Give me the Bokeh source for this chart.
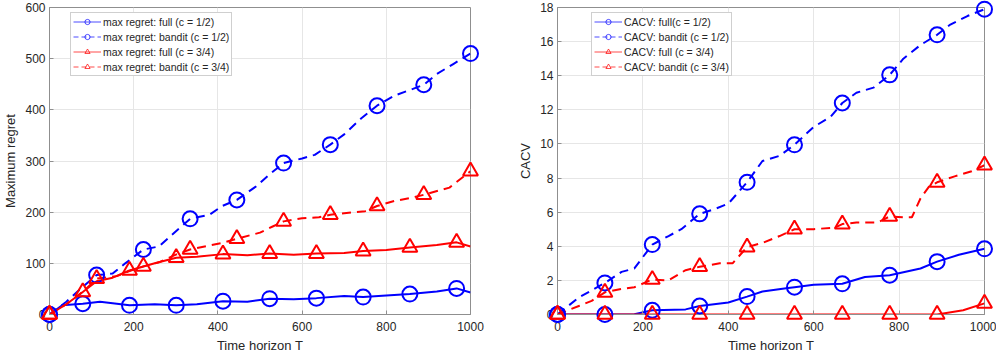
import numpy as np
from bokeh.plotting import figure
from bokeh.layouts import row
from bokeh.models import Range1d, FixedTicker, Legend, LegendItem
from bokeh.embed import file_html
from bokeh.resources import INLINE

# ---------------- data: left panel (Maximum regret) ----------------
reg_full_half_x = [0, 30, 79, 120, 150, 190, 250, 301, 350, 412, 470, 523, 580, 634, 700, 745, 800, 856, 920, 967, 1000]
reg_full_half_y = [0, 18, 21, 25, 22, 18, 20, 18, 20, 26, 25, 31, 30, 32, 36, 34, 37, 40, 45, 51, 43]
reg_full_half_mk = [0, 79, 190, 301, 412, 523, 634, 745, 856, 967]

reg_band_half_x = [0, 40, 80, 112, 150, 180, 223, 260, 290, 334, 380, 410, 445, 490, 520, 556, 600, 630, 667, 700, 740, 778, 820, 860, 889, 920, 960, 1000]
reg_band_half_y = [0, 25, 55, 77, 80, 100, 127, 133, 155, 187, 195, 212, 224, 250, 272, 296, 305, 312, 332, 352, 383, 408, 428, 440, 449, 470, 490, 510]
reg_band_half_mk = [0, 112, 223, 334, 445, 556, 667, 778, 889, 1000]

reg_full_34_x = [0, 40, 79, 112, 150, 190, 250, 301, 350, 412, 470, 523, 580, 634, 700, 745, 800, 856, 920, 967, 1000]
reg_full_34_y = [0, 20, 44, 65, 72, 86, 100, 111, 113, 118, 116, 119, 117, 119, 120, 124, 126, 131, 136, 141, 133]
reg_full_34_mk = [0, 79, 190, 301, 412, 523, 634, 745, 856, 967]

reg_band_34_x = [0, 40, 80, 112, 160, 190, 223, 260, 300, 334, 380, 410, 445, 500, 530, 556, 600, 640, 667, 700, 750, 778, 820, 860, 889, 950, 1000]
reg_band_34_y = [0, 20, 45, 70, 75, 85, 94, 102, 117, 127, 135, 140, 148, 160, 172, 182, 188, 190, 195, 198, 202, 212, 222, 228, 234, 248, 280]
reg_band_34_mk = [0, 112, 223, 334, 445, 556, 667, 778, 889, 1000]

# ---------------- data: right panel (CACV) ----------------
cv_full_half_x = [0, 111, 180, 222, 300, 333, 400, 444, 480, 540, 555, 600, 667, 720, 778, 850, 889, 940, 1000]
cv_full_half_y = [0, 0, 0.02, 0.25, 0.3, 0.5, 0.7, 1.05, 1.35, 1.55, 1.6, 1.75, 1.8, 2.2, 2.3, 2.7, 3.1, 3.5, 3.85]
cv_full_half_mk = [0, 111, 222, 333, 444, 555, 667, 778, 889, 1000]

cv_band_half_x = [0, 50, 111, 150, 180, 222, 260, 290, 333, 370, 400, 444, 480, 520, 555, 600, 640, 667, 700, 740, 778, 810, 850, 889, 920, 960, 1000]
cv_band_half_y = [0, 1.0, 1.85, 2.5, 2.7, 4.1, 4.6, 5.0, 5.9, 6.2, 6.5, 7.75, 9.0, 9.3, 9.95, 11.0, 11.6, 12.4, 13.0, 13.3, 14.05, 15.0, 15.8, 16.4, 17.0, 17.5, 17.9]
cv_band_half_mk = [0, 111, 222, 333, 444, 555, 667, 778, 889, 1000]

cv_full_34_x = [0, 111, 222, 333, 444, 555, 667, 778, 889, 950, 1000]
cv_full_34_y = [0, 0, 0, 0, 0, 0, 0, 0, 0, 0.25, 0.65]
cv_full_34_mk = [0, 111, 222, 333, 444, 555, 667, 778, 889, 1000]

cv_band_34_x = [0, 50, 80, 111, 150, 180, 222, 260, 300, 333, 380, 410, 444, 480, 520, 555, 600, 650, 667, 700, 750, 778, 810, 830, 850, 870, 889, 930, 970, 1000]
cv_band_34_y = [0, 0.5, 0.8, 1.3, 1.5, 1.6, 2.05, 2.0, 2.6, 2.8, 3.0, 3.0, 3.95, 4.2, 4.6, 5.0, 5.0, 5.1, 5.3, 5.4, 5.4, 5.75, 5.7, 5.7, 6.8, 7.5, 7.75, 8.1, 8.4, 8.75]
cv_band_34_mk = [0, 111, 222, 333, 444, 555, 667, 778, 889, 1000]

x_ticks = [0, 200, 400, 600, 800, 1000]
reg_ticks = [0, 100, 200, 300, 400, 500, 600]
cv_ticks = [0, 2, 4, 6, 8, 10, 12, 14, 16, 18]

reg_labels = ["max regret: full (c = 1/2)", "max regret: bandit (c = 1/2)",
              "max regret: full (c = 3/4)", "max regret: bandit (c = 3/4)"]
cv_labels = ["CACV: full(c = 1/2)", "CACV: bandit (c = 1/2)",
             "CACV: full (c = 3/4)", "CACV: bandit (c = 3/4)"]

BLUE = "#0000ff"
RED = "#ff0000"
AX = "#262626"
BOX = "#8f8f8f"
FONT = "Liberation Sans"
H = 356
TOP = 7
BOTTOM = 42
FRAME_H = H - TOP - BOTTOM
LEG_H = 62
NAN = float("nan")


def make_fig(width, left, right, ymax, yticks, ylabel):
    p = figure(width=width, height=H, output_backend="svg", toolbar_location=None,
               x_range=Range1d(0, 1000), y_range=Range1d(0, ymax),
               min_border_left=left, min_border_right=right,
               min_border_top=TOP, min_border_bottom=BOTTOM)
    p.outline_line_color = BOX
    p.outline_line_width = 1
    p.background_fill_color = "white"
    p.border_fill_color = "white"
    for ax, ticks in ((p.xaxis[0], x_ticks), (p.yaxis[0], yticks)):
        ax.ticker = FixedTicker(ticks=ticks)
        ax.axis_line_color = BOX
        ax.major_tick_line_color = BOX
        ax.major_tick_in = 4
        ax.major_tick_out = 0
        ax.minor_tick_line_color = None
        ax.major_label_text_font = FONT
        ax.major_label_text_font_size = "12px"
        ax.major_label_text_color = AX
        ax.axis_label_text_font = FONT
        ax.axis_label_text_font_size = "13px"
        ax.axis_label_text_font_style = "normal"
        ax.axis_label_text_color = AX
    p.xaxis[0].axis_label = "Time horizon T"
    p.xaxis[0].major_label_standoff = 7
    p.xaxis[0].axis_label_standoff = 4
    p.yaxis[0].axis_label = ylabel
    p.yaxis[0].major_label_standoff = 4
    p.yaxis[0].axis_label_standoff = 4
    p.xgrid.ticker = FixedTicker(ticks=x_ticks)
    p.ygrid.ticker = FixedTicker(ticks=yticks)
    p.grid.grid_line_color = "#e6e6e6"
    p.grid.grid_line_width = 1
    return p


def add_series(p, xs, ys, mk, color, dash, marker):
    p.line(xs, ys, line_color=color, line_width=2, line_dash=dash)
    idx = [xs.index(v) for v in mk]
    p.scatter([xs[i] for i in idx], [ys[i] for i in idx], marker=marker, size=15,
              fill_color=None, line_color=color, line_width=2, level="annotation")
    # legend proxies (thin line, small marker), no visible data
    l = p.line([NAN], [NAN], line_color=color, line_width=1, line_dash="5 3" if dash != "solid" else "solid",
               line_alpha=0.7)
    m = p.scatter([NAN], [NAN], marker=marker, size=8, fill_color=None, line_color=color,
                  line_width=1, line_alpha=0.7)
    return [l, m]


def add_legend(p, items, labels, xoff):
    leg = Legend(items=[LegendItem(label=lab, renderers=r) for lab, r in zip(labels, items)])
    leg.location = (xoff, FRAME_H - 7 - LEG_H)
    leg.label_text_font = FONT
    leg.label_text_font_size = "10.5px"
    leg.label_text_color = AX
    leg.label_height = 13
    leg.glyph_height = 13
    leg.glyph_width = 28
    leg.label_standoff = 2
    leg.spacing = 2
    leg.padding = 2
    leg.margin = 0
    leg.border_line_color = "#a0a0a0"
    leg.border_line_width = 1
    leg.background_fill_color = "white"
    leg.background_fill_alpha = 1
    p.add_layout(leg, "center")


p1 = make_fig(500, 49, 30, 600, reg_ticks, "Maximum regret")
it1 = [
    add_series(p1, reg_full_half_x, reg_full_half_y, reg_full_half_mk, BLUE, "solid", "circle"),
    add_series(p1, reg_band_half_x, reg_band_half_y, reg_band_half_mk, BLUE, "9 6", "circle"),
    add_series(p1, reg_full_34_x, reg_full_34_y, reg_full_34_mk, RED, "solid", "triangle"),
    add_series(p1, reg_band_34_x, reg_band_34_y, reg_band_34_mk, RED, "9 6", "triangle"),
]
add_legend(p1, it1, reg_labels, 21)

p2 = make_fig(496, 57, 12, 18, cv_ticks, "CACV")
it2 = [
    add_series(p2, cv_full_half_x, cv_full_half_y, cv_full_half_mk, BLUE, "solid", "circle"),
    add_series(p2, cv_band_half_x, cv_band_half_y, cv_band_half_mk, BLUE, "9 6", "circle"),
    add_series(p2, cv_full_34_x, cv_full_34_y, cv_full_34_mk, RED, "solid", "triangle"),
    add_series(p2, cv_band_34_x, cv_band_34_y, cv_band_34_mk, RED, "9 6", "triangle"),
]
add_legend(p2, it2, cv_labels, 34)

layout = row(p1, p2, spacing=0)
try:
    from bokeh.models import GlobalInlineStyleSheet
    layout.stylesheets = [GlobalInlineStyleSheet(css="html, body { overflow: hidden; }")]
except Exception:
    pass
open("out.html", "w").write(file_html(layout, INLINE))
